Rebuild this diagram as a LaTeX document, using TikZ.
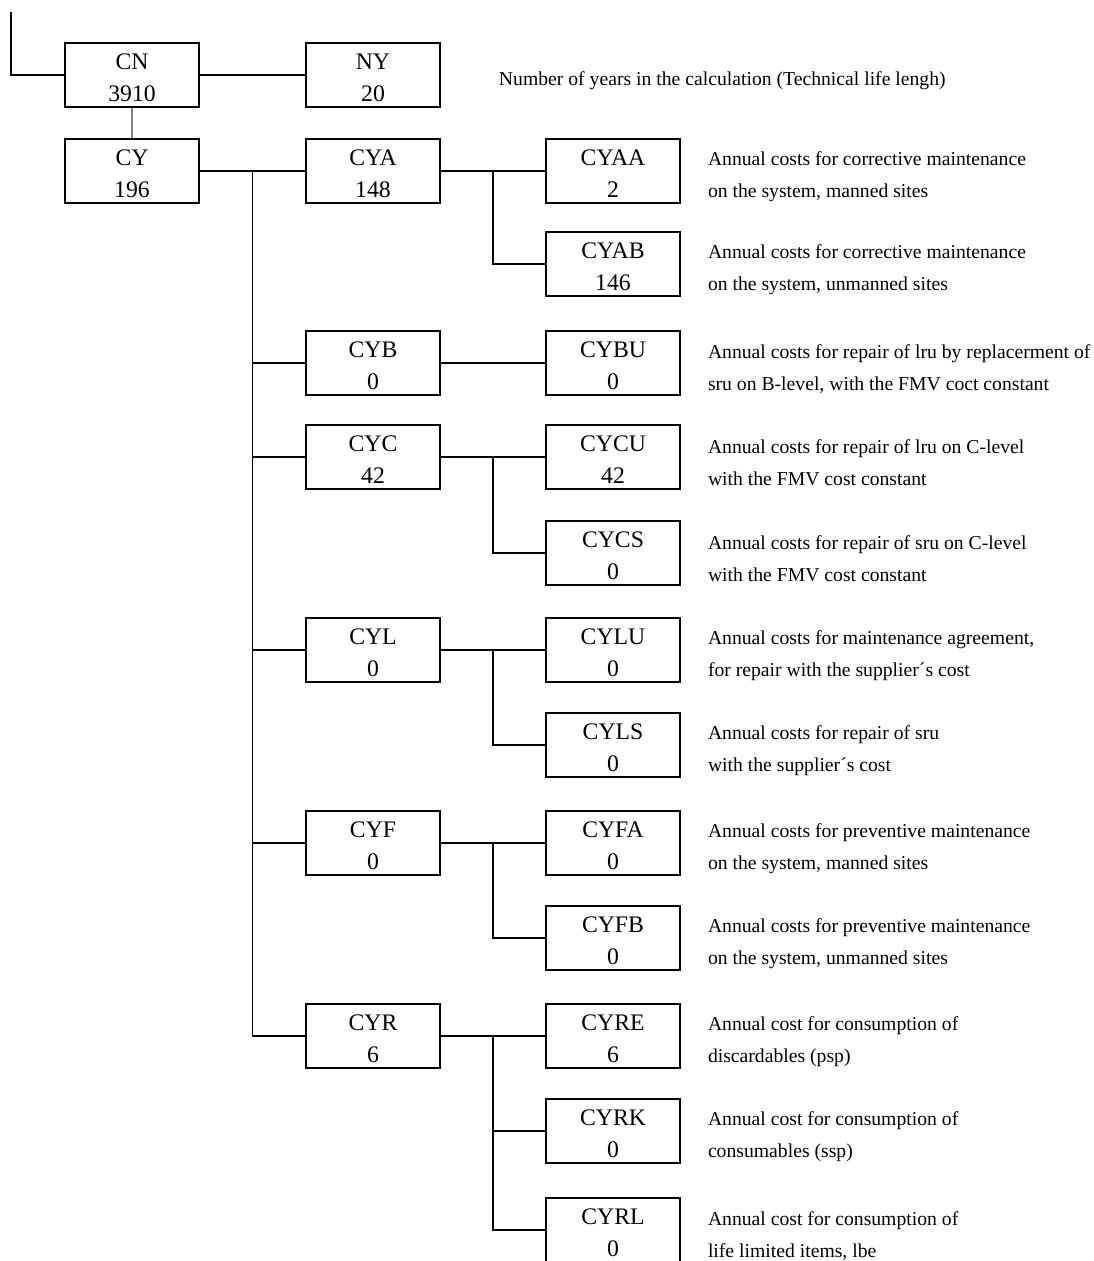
\documentclass[tikz,border=0pt]{standalone}
\usepackage{fontspec}
\setmainfont{Liberation Serif}
\usepackage{tikz}
\usetikzlibrary{positioning, calc}
\usepackage{xcolor}
\definecolor{linegray}{RGB}{130,130,130}

\begin{document}
\begin{tikzpicture}[x=0.02cm, y=-0.02cm,
  costbox/.style={draw, line width=0.75pt, minimum width=2.68cm, minimum height=1.28cm,
    inner sep=0pt, align=center, font=\fontsize{13.5}{18}\selectfont,
    text height=29.8pt, text depth=0pt},
  desc/.style={align=left, inner sep=0pt, yshift=-0.12cm, font=\fontsize{11.2}{18.2}\selectfont},
  link/.style={line width=0.6pt}]
  \useasboundingbox (0,0) rectangle (1094,1261);
  \clip (0,0) rectangle (1094,1261);

  % top level
  \node[costbox] (CN) at (132, 75) {CN\\3910};
  \node[costbox] (NY) at (373, 75) {NY\\20};
  \node[costbox] (CY) at (132, 171) {CY\\196};

  % annual cost groups
  \node[costbox] (CYA) at (373, 171) {CYA\\148};
  \node[costbox] (CYB) at (373, 363) {CYB\\0};
  \node[costbox] (CYC) at (373, 457) {CYC\\42};
  \node[costbox] (CYL) at (373, 650) {CYL\\0};
  \node[costbox] (CYF) at (373, 843) {CYF\\0};
  \node[costbox] (CYR) at (373, 1036) {CYR\\6};

  % cost items
  \node[costbox] (CYAA) at (613, 171) {CYAA\\2};
  \node[costbox] (CYAB) at (613, 264) {CYAB\\146};
  \node[costbox] (CYBU) at (613, 363) {CYBU\\0};
  \node[costbox] (CYCU) at (613, 457) {CYCU\\42};
  \node[costbox] (CYCS) at (613, 553) {CYCS\\0};
  \node[costbox] (CYLU) at (613, 650) {CYLU\\0};
  \node[costbox] (CYLS) at (613, 745) {CYLS\\0};
  \node[costbox] (CYFA) at (613, 843) {CYFA\\0};
  \node[costbox] (CYFB) at (613, 938) {CYFB\\0};
  \node[costbox] (CYRE) at (613, 1036) {CYRE\\6};
  \node[costbox] (CYRK) at (613, 1131) {CYRK\\0};
  \node[costbox] (CYRL) at (613, 1230) {CYRL\\0};

  % explanations
  \node[desc, right=1.16cm of NY] (NYtxt) {Number of years in the calculation (Technical life lengh)};
  \node[desc, right=0.54cm of CYAA] (CYAAtxt) {Annual costs for corrective maintenance\\on the system, manned sites};
  \node[desc, right=0.54cm of CYAB] (CYABtxt) {Annual costs for corrective maintenance\\on the system, unmanned sites};
  \node[desc, right=0.54cm of CYBU] (CYBUtxt) {Annual costs for repair of lru by replacerment of\\sru on B-level, with the FMV coct constant};
  \node[desc, right=0.54cm of CYCU] (CYCUtxt) {Annual costs for repair of lru on C-level\\with the FMV cost constant};
  \node[desc, right=0.54cm of CYCS] (CYCStxt) {Annual costs for repair of sru on C-level\\with the FMV cost constant};
  \node[desc, right=0.54cm of CYLU] (CYLUtxt) {Annual costs for maintenance agreement,\\for repair with the supplier´s cost};
  \node[desc, right=0.54cm of CYLS] (CYLStxt) {Annual costs for repair of sru\\with the supplier´s cost};
  \node[desc, right=0.54cm of CYFA] (CYFAtxt) {Annual costs for preventive maintenance\\on the system, manned sites};
  \node[desc, right=0.54cm of CYFB] (CYFBtxt) {Annual costs for preventive maintenance\\on the system, unmanned sites};
  \node[desc, right=0.54cm of CYRE] (CYREtxt) {Annual cost for consumption of\\discardables (psp)};
  \node[desc, right=0.54cm of CYRK] (CYRKtxt) {Annual cost for consumption of\\consumables (ssp)};
  \node[desc, right=0.54cm of CYRL] (CYRLtxt) {Annual cost for consumption of\\life limited items, lbe};

  % connectors
  \coordinate (feed) at (11, 12);
  \draw[link] (feed) |- (CN.west);
  \draw[link] (CN) -- (NY);
  \draw[link, linegray] (CN) -- (CY);
  \draw[link] (CY) -- (CYA);

  \coordinate (trunk) at ($(CY.east)!0.5!(CYA.west)$);
  \draw[link] (trunk) |- (CYB.west);
  \draw[link] (trunk) |- (CYC.west);
  \draw[link] (trunk) |- (CYL.west);
  \draw[link] (trunk) |- (CYF.west);
  \draw[link] (trunk) |- (CYR.west);

  \coordinate (brA) at ($(CYA.east)!0.5!(CYAA.west)$);
  \draw[link] (CYA) -- (CYAA);
  \draw[link] (brA) |- (CYAB.west);

  \draw[link] (CYB) -- (CYBU);

  \coordinate (brC) at ($(CYC.east)!0.5!(CYCU.west)$);
  \draw[link] (CYC) -- (CYCU);
  \draw[link] (brC) |- (CYCS.west);

  \coordinate (brL) at ($(CYL.east)!0.5!(CYLU.west)$);
  \draw[link] (CYL) -- (CYLU);
  \draw[link] (brL) |- (CYLS.west);

  \coordinate (brF) at ($(CYF.east)!0.5!(CYFA.west)$);
  \draw[link] (CYF) -- (CYFA);
  \draw[link] (brF) |- (CYFB.west);

  \coordinate (brR) at ($(CYR.east)!0.5!(CYRE.west)$);
  \draw[link] (CYR) -- (CYRE);
  \draw[link] (brR) |- (CYRK.west);
  \draw[link] (brR) |- (CYRL.west);
\end{tikzpicture}
\end{document}
